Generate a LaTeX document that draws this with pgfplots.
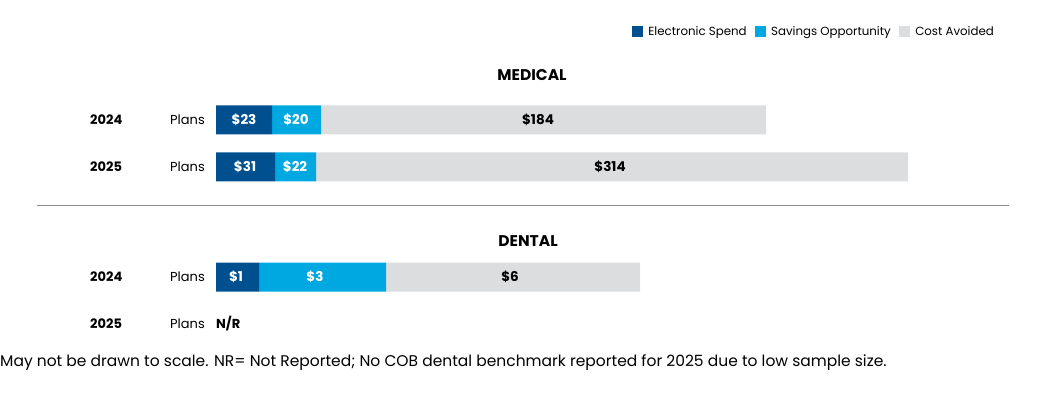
\documentclass[border=0pt]{standalone}
\usepackage{fontspec}
\setmainfont{Poppins}
\usepackage{pgfplots}
\pgfplotsset{compat=1.18}
\definecolor{espend}{HTML}{00508F}
\definecolor{saveop}{HTML}{00A8E1}
\definecolor{costav}{HTML}{DCDDDF}
\begin{document}
\begin{tikzpicture}
\path[use as bounding box] (0,0) rectangle (1050pt,393pt);
\begin{axis}[
  at={(0,0)}, anchor=south west,
  scale only axis, width=1050pt, height=393pt,
  xmin=-216, xmax=834, ymin=0, ymax=393, y dir=reverse,
  axis lines=none, clip=false,
  xbar stacked, bar width=29pt,
  legend style={at={(axis cs:780,32)}, anchor=east, draw=none, fill=none,
    legend columns=3, inner sep=0pt, font=\fontsize{11.8}{14}\selectfont,
    /tikz/every odd column/.append style={column sep=3pt},
    /tikz/every even column/.append style={column sep=6pt}},
  legend image code/.code={\fill[#1] (0pt,-5.5pt) rectangle (11.5pt,5.5pt);},
  legend cell align=left,
]
% bar lengths are drawn-not-to-scale widths
\addplot[draw=none, fill=espend] coordinates {(56,120) (59,167) (43,277)};
\addplot[draw=none, fill=saveop] coordinates {(49,120) (41,167) (127,277)};
\addplot[draw=none, fill=costav] coordinates {(445,120) (592,167) (254,277)};
\legend{Electronic Spend, Savings Opportunity, Cost Avoided}
% label anchors
\coordinate (a1) at (axis cs:28,120);
\coordinate (a2) at (axis cs:80,120);
\coordinate (a3) at (axis cs:322,120);
\coordinate (b1) at (axis cs:29,167);
\coordinate (b2) at (axis cs:79,167);
\coordinate (b3) at (axis cs:394,167);
\coordinate (c1) at (axis cs:20,277);
\coordinate (c2) at (axis cs:99,277);
\coordinate (c3) at (axis cs:294,277);
% titles
\node[font=\bfseries\fontsize{15.5}{17}\selectfont] at (axis cs:316,75) {MEDICAL};
\node[font=\bfseries\fontsize{15.5}{17}\selectfont] at (axis cs:312,241) {DENTAL};
% row labels
\tikzset{yl/.style={font=\bfseries\fontsize{13}{15}\selectfont, anchor=west, inner sep=0pt},
         pl/.style={font=\fontsize{13}{15}\selectfont, anchor=west, inner sep=0pt}}
\node[yl] at (axis cs:-126,120) {2024};
\node[pl] at (axis cs:-46,120) {Plans};
\node[yl] at (axis cs:-126,167) {2025};
\node[pl] at (axis cs:-46,167) {Plans};
\node[yl] at (axis cs:-126,277) {2024};
\node[pl] at (axis cs:-46,277) {Plans};
\node[yl] at (axis cs:-126,324) {2025};
\node[pl] at (axis cs:-46,324) {Plans};
\node[yl] at (axis cs:0,324) {N/R};
% separator
\draw[color=black!45, line width=0.8pt] (axis cs:-179,205) -- (axis cs:793,205);
% footnote
\node[font=\fontsize{15.5}{17}\selectfont, anchor=west, inner sep=0pt] at (axis cs:-216,363)
  {May not be drawn to scale. NR= Not Reported; No COB dental benchmark reported for 2025 due to low sample size.};
\end{axis}
\tikzset{vl/.style={font=\bfseries\fontsize{13.5}{15}\selectfont, anchor=center}}
\node[vl, white] at (a1) {\$23};
\node[vl, white] at (a2) {\$20};
\node[vl] at (a3) {\$184};
\node[vl, white] at (b1) {\$31};
\node[vl, white] at (b2) {\$22};
\node[vl] at (b3) {\$314};
\node[vl, white] at (c1) {\$1};
\node[vl, white] at (c2) {\$3};
\node[vl] at (c3) {\$6};
\end{tikzpicture}
\end{document}
